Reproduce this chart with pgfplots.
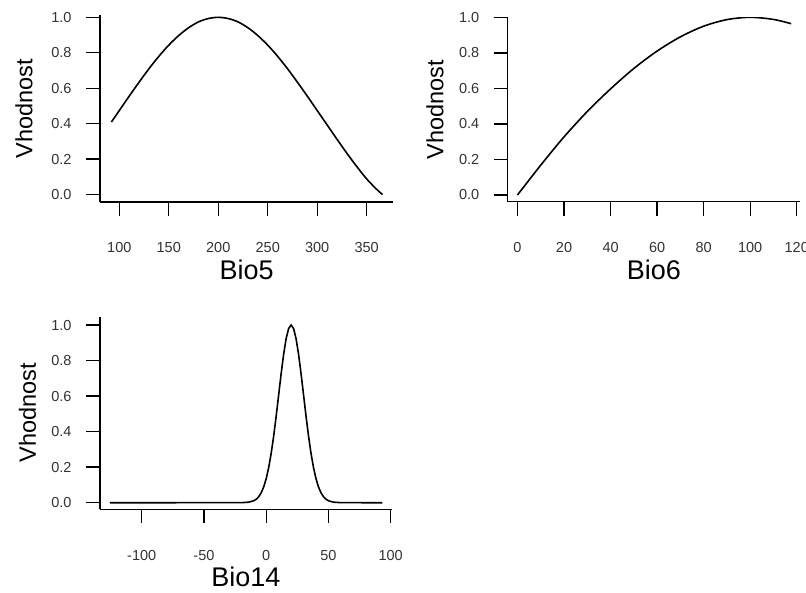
\documentclass[border=0pt]{standalone}
\usepackage{fontspec}
\setmainfont{Liberation Sans}
\usepackage{pgfplots}
\pgfplotsset{compat=1.18}
\pgfplotsset{
  myax/.style={
    scale only axis,
    axis x line*=bottom, axis y line*=left,
    axis line style={line width=1.4pt, black},
    tick align=outside,
    major tick length=14pt,
    tick style={line width=1.4pt, black},
    minor tick num=0,
    ytick={0,0.2,0.4,0.6,0.8,1},
    /pgf/number format/assume math mode=true,
    yticklabel style={/pgf/number format/fixed, /pgf/number format/fixed zerofill, /pgf/number format/precision=1,
      font=\fontsize{14.5}{16}\selectfont, text=black!80, anchor=east, inner sep=0pt},
    xticklabel style={font=\fontsize{14.5}{16}\selectfont, text=black!80, anchor=center, inner sep=0pt},
    xticklabel shift=32pt,
    yticklabel shift=14.3pt,
    ylabel={Vhodnost},
    xlabel style={font=\fontsize{27}{30}\selectfont, at={(axis description cs:0.5,0)}, yshift=-68pt, anchor=center, inner sep=0pt},
  }
}
\begin{document}
\begin{tikzpicture}
\useasboundingbox (0,0) rectangle (806pt,592pt);
% Panel 1: Bio5
\begin{axis}[myax, at={(100pt,390pt)}, anchor=south west,
  width=293.3pt, height=187pt,
  xmin=80.5, xmax=376.9, ymin=-0.042, ymax=1.013,
  xtick={100,150,200,250,300,350},
  xlabel={Bio5},
  ylabel style={font=\fontsize{23.5}{26}\selectfont, at={(axis description cs:-0.259,0.5)}, anchor=center, inner sep=0pt}]
\addplot[black, line width=1.6pt, smooth] coordinates {
(92,0.409) (100,0.474) (110,0.555) (120,0.634) (130,0.710) (140,0.780)
(150,0.843) (160,0.897) (170,0.941) (180,0.974) (190,0.993) (200,1.000)
(210,0.993) (220,0.974) (230,0.941) (240,0.897) (250,0.843) (260,0.780)
(270,0.710) (280,0.634) (290,0.555) (300,0.474) (310,0.393) (320,0.312)
(330,0.233) (340,0.158) (350,0.088) (360,0.030) (366,0.000)};
\end{axis}
% Panel 2: Bio6
\begin{axis}[myax, at={(507.7pt,390.3pt)}, anchor=south west,
  width=292.3pt, height=184.4pt,
  xmin=-4.2, xmax=121.4, ymin=-0.0377, ymax=1.0,
  xtick={0,20,40,60,80,100,120},
  xlabel={Bio6},
  ylabel style={font=\fontsize{23.5}{26}\selectfont, at={(axis description cs:-0.249,0.5)}, anchor=center, inner sep=0pt}]
\addplot[black, line width=1.6pt, smooth] coordinates {
(0,0.000) (10,0.168) (20,0.327) (30,0.470) (40,0.597) (50,0.712)
(60,0.810) (70,0.890) (80,0.950) (90,0.987) (100,1.000) (110,0.988) (117.6,0.964)};
\end{axis}
% Panel 3: Bio14
\begin{axis}[myax, at={(100pt,82.7pt)}, anchor=south west,
  width=291.7pt, height=192.6pt,
  xmin=-133.5, xmax=100.8, ymin=-0.037, ymax=1.047,
  xtick={-100,-50,0,50,100},
  xlabel={Bio14},
  ylabel style={font=\fontsize{23.5}{26}\selectfont, at={(axis description cs:-0.249,0.5)}, anchor=center, inner sep=0pt}]
\addplot[black, line width=1.6pt] coordinates {
(-125.5,0) (-20,0.0003) (-14,0.0031) (-10,0.0111) (-8,0.0198) (-6,0.0340)
(-4,0.0561) (-2,0.0889) (0,0.1353) (2,0.1979) (4,0.2780) (6,0.3753)
(8,0.4868) (10,0.6065) (12,0.7261) (14,0.8353) (16,0.9231) (18,0.9802)
(20,1.0) (22,0.9802) (24,0.9231) (26,0.8353) (28,0.7261) (30,0.6065)
(32,0.4868) (34,0.3753) (36,0.2780) (38,0.1979) (40,0.1353) (42,0.0889)
(44,0.0561) (46,0.0340) (48,0.0198) (50,0.0111) (54,0.0031) (60,0.0003) (93.3,0)};
\end{axis}
\end{tikzpicture}
\end{document}
